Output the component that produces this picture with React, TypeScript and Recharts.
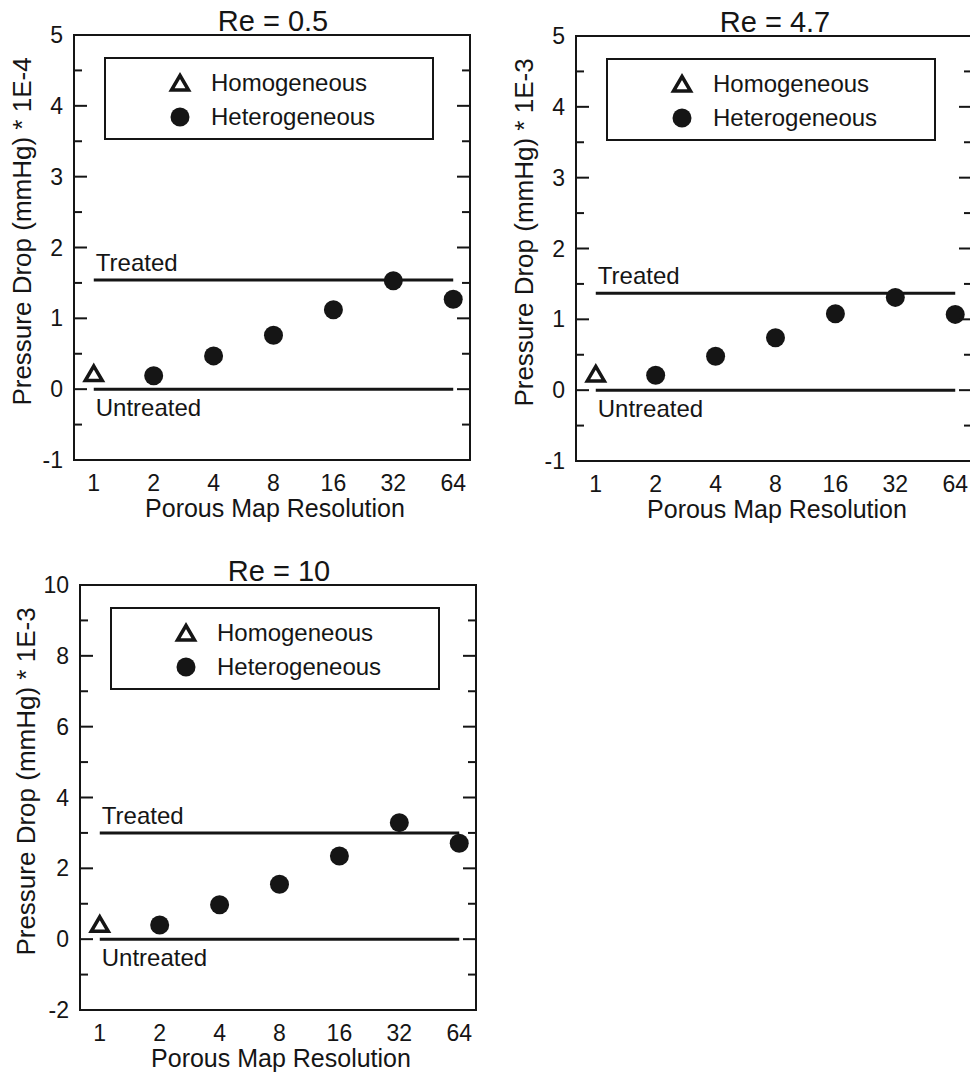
import React from 'react';
import {
  ScatterChart,
  Scatter,
  XAxis,
  YAxis,
  ReferenceLine,
  ReferenceArea,
  Legend,
} from 'recharts';

// porous map resolutions on the x axis (plotted at their index)
const resolutions = ['1', '2', '4', '8', '16', '32', '64'];
const resolutionIndex = [0, 1, 2, 3, 4, 5, 6];

// Re = 0.5 (mmHg * 1E-4)
const re05Homogeneous = [0.22];
const re05Heterogeneous = [0.19, 0.47, 0.76, 1.12, 1.53, 1.27];
const re05Treated = 1.54;
const re05Untreated = 0;
const re05Ticks = [-1, -0.5, 0, 0.5, 1, 1.5, 2, 2.5, 3, 3.5, 4, 4.5, 5];

// Re = 4.7 (mmHg * 1E-3)
const re47Homogeneous = [0.23];
const re47Heterogeneous = [0.21, 0.48, 0.74, 1.08, 1.31, 1.07];
const re47Treated = 1.37;
const re47Untreated = 0;
const re47Ticks = [-1, -0.5, 0, 0.5, 1, 1.5, 2, 2.5, 3, 3.5, 4, 4.5, 5];

// Re = 10 (mmHg * 1E-3)
const re10Homogeneous = [0.42];
const re10Heterogeneous = [0.4, 0.97, 1.55, 2.35, 3.29, 2.71];
const re10Treated = 3.0;
const re10Untreated = 0;
const re10Ticks = [-2, -1, 0, 1, 2, 3, 4, 5, 6, 7, 8, 9, 10];

const INK = '#151515';
const FONT = '"Liberation Sans", Arial, Helvetica, sans-serif';
const X_DOMAIN: [number, number] = [-0.33, 6.28];

const isMajor = (v: number, step: number) => Math.abs(v / step - Math.round(v / step)) < 1e-6;

// tick marks (all drawn inward, from the frame)
const BottomMark = (props: any) => {
  const x = Number(props.x);
  const y = Number(props.y);
  return <path d={`M${x},${y}V${y - 9}`} stroke={INK} strokeWidth={2} fill="none" />;
};

const TopMark = (props: any) => {
  const x = Number(props.x);
  const y = Number(props.y);
  return <path d={`M${x},${y}V${y + 9}`} stroke={INK} strokeWidth={2} fill="none" />;
};

const makeLeftMark = (step: number) => (props: any) => {
  const x = Number(props.x);
  const y = Number(props.y);
  const len = isMajor(props.payload.value, step) ? 13 : 8;
  return <path d={`M${x},${y}H${x + len}`} stroke={INK} strokeWidth={2} fill="none" />;
};

const makeRightMark = (step: number) => (props: any) => {
  const x = Number(props.x);
  const y = Number(props.y);
  const len = isMajor(props.payload.value, step) ? 13 : 8;
  return <path d={`M${x},${y}H${x - len}`} stroke={INK} strokeWidth={2} fill="none" />;
};

// tick labels
const BottomLabel = (props: any) => {
  const x = Number(props.x);
  const y = Number(props.y);
  return (
    <text x={x} y={y + 30} textAnchor="middle" fontSize={23} fill={INK} fontFamily={FONT}>
      {resolutions[props.payload.value]}
    </text>
  );
};

const makeLeftLabel = (step: number) => (props: any) => {
  const x = Number(props.x);
  const y = Number(props.y);
  if (!isMajor(props.payload.value, step)) return <g />;
  return (
    <text x={x - 10} y={y + 8} textAnchor="end" fontSize={23} fill={INK} fontFamily={FONT}>
      {props.payload.value}
    </text>
  );
};

const Triangle = (props: any) => {
  const { cx, cy } = props;
  if (cx == null || cy == null) return null;
  return (
    <path
      d={`M${cx},${cy - 7.5} L${cx + 8.5},${cy + 7} L${cx - 8.5},${cy + 7} Z`}
      fill="#fff"
      stroke={INK}
      strokeWidth={3.5}
      strokeLinejoin="miter"
    />
  );
};

const Dot = (props: any) => {
  const { cx, cy } = props;
  if (cx == null || cy == null) return null;
  return <circle cx={cx} cy={cy} r={9.5} fill={INK} />;
};

const legendOrder = ['Homogeneous', 'Heterogeneous'];

const renderLegend = (props: any) => {
  const payload = [...(props.payload || [])].sort(
    (a: any, b: any) => legendOrder.indexOf(a.value) - legendOrder.indexOf(b.value),
  );
  return (
    <svg width={330} height={83} style={{ display: 'block' }}>
      <rect x={1} y={1} width={328} height={81} fill="#fff" stroke={INK} strokeWidth={2} />
      {payload.map((entry: any, i: number) => {
        const cy = 26 + i * 34;
        return (
          <g key={entry.value}>
            {entry.value === 'Homogeneous' ? <Triangle cx={76} cy={cy} /> : <Dot cx={76} cy={cy} />}
            <text x={107} y={cy + 8} fontSize={24} fill={INK} fontFamily={FONT}>
              {entry.value}
            </text>
          </g>
        );
      })}
    </svg>
  );
};

const lineLabel = (text: string, dx: number, dy: number) => (props: any) => {
  const vb = props.viewBox || { x: 0, y: 0 };
  return (
    <text x={vb.x + dx} y={vb.y + dy} fontSize={24} fill={INK} fontFamily={FONT}>
      {text}
    </text>
  );
};

interface PanelProps {
  left: number;
  top: number;
  title: string;
  yLabel: string;
  yDomain: [number, number];
  yTicks: number[];
  majorStep: number;
  homogeneous: number[];
  heterogeneous: number[];
  treated: number;
  untreated: number;
  yLabelGap: number;
}

const Panel: React.FC<PanelProps> = ({
  left, top, title, yLabel, yDomain, yTicks, majorStep,
  homogeneous, heterogeneous, treated, untreated, yLabelGap,
}) => {
  const homData = homogeneous.map((v, i) => ({ x: resolutionIndex[i], y: v }));
  const hetData = heterogeneous.map((v, i) => ({ x: resolutionIndex[i + 1], y: v }));

  const titleLabel = (props: any) => {
    const vb = props.viewBox || { x: 0, y: 0, width: 0, height: 0 };
    return (
      <text x={vb.x + vb.width / 2 + 1} y={vb.y + (vb.height || 0) - 3} textAnchor="middle" fontSize={29} fill={INK} fontFamily={FONT}>
        {title}
      </text>
    );
  };
  const xLabel = (props: any) => {
    const vb = props.viewBox || { x: 0, y: 0, width: 0 };
    return (
      <text x={vb.x + vb.width / 2 + 3} y={vb.y + 56} textAnchor="middle" fontSize={25} fill={INK} fontFamily={FONT}>
        Porous Map Resolution
      </text>
    );
  };
  const yTitle = (props: any) => {
    const vb = props.viewBox || { x: 0, y: 0, width: 0, height: 0 };
    const tx = vb.x + vb.width + 1 - yLabelGap;
    const ty = vb.y + vb.height / 2 - 16;
    return (
      <text transform={`translate(${tx},${ty}) rotate(-90)`} textAnchor="middle" fontSize={26} fill={INK} fontFamily={FONT}>
        {yLabel}
      </text>
    );
  };

  const common = { type: 'number' as const, tickSize: 0, tickMargin: 0, tickLine: false, axisLine: false, interval: 0 as const, allowDataOverflow: true };

  return (
    <div style={{ position: 'absolute', left, top }}>
      <ScatterChart width={480} height={525} margin={{ top: 33, right: 9, bottom: 0, left: 0 }}>
        {/* label axes first (outer), then the mark-only axes next to the frame */}
        <XAxis {...common} xAxisId="B2" dataKey="x" orientation="bottom" domain={X_DOMAIN} ticks={resolutionIndex} height={64} tick={BottomLabel} label={xLabel} />
        <XAxis {...common} xAxisId="B1" orientation="bottom" domain={X_DOMAIN} ticks={resolutionIndex} height={1} tick={BottomMark} />
        <XAxis {...common} xAxisId="T2" orientation="top" domain={X_DOMAIN} ticks={resolutionIndex} height={1} tick={false} label={titleLabel} />
        <XAxis {...common} xAxisId="T1" orientation="top" domain={X_DOMAIN} ticks={resolutionIndex} height={1} tick={TopMark} />
        <YAxis {...common} yAxisId="L2" dataKey="y" orientation="left" domain={yDomain} ticks={yTicks} width={73} tick={makeLeftLabel(majorStep)} label={yTitle} />
        <YAxis {...common} yAxisId="L1" orientation="left" domain={yDomain} ticks={yTicks} width={1} tick={makeLeftMark(majorStep)} />
        <YAxis {...common} yAxisId="R1" orientation="right" domain={yDomain} ticks={yTicks} width={1} tick={makeRightMark(majorStep)} />

        {/* plot frame */}
        <ReferenceArea
          xAxisId="B2"
          yAxisId="L2"
          x1={X_DOMAIN[0]}
          x2={X_DOMAIN[1]}
          y1={yDomain[0]}
          y2={yDomain[1]}
          fill="none"
          fillOpacity={0}
          stroke={INK}
          strokeWidth={2}
          ifOverflow="visible"
        />
        <ReferenceLine
          xAxisId="B2"
          yAxisId="L2"
          segment={[{ x: resolutionIndex[0], y: treated }, { x: resolutionIndex[6], y: treated }]}
          stroke={INK}
          strokeWidth={3}
          label={lineLabel('Treated', 2, -9)}
        />
        <ReferenceLine
          xAxisId="B2"
          yAxisId="L2"
          segment={[{ x: resolutionIndex[0], y: untreated }, { x: resolutionIndex[6], y: untreated }]}
          stroke={INK}
          strokeWidth={3}
          label={lineLabel('Untreated', 2, 27)}
        />
        <Scatter
          name="Homogeneous"
          data={homData}
          xAxisId="B2"
          yAxisId="L2"
          shape={Triangle}
          isAnimationActive={false}
        />
        <Scatter
          name="Heterogeneous"
          data={hetData}
          xAxisId="B2"
          yAxisId="L2"
          shape={Dot}
          isAnimationActive={false}
        />
        <Legend
          layout="horizontal"
          verticalAlign="middle"
          align="center"
          content={renderLegend}
          wrapperStyle={{ left: 104, top: 35 + 22, width: 330, height: 83 }}
        />
      </ScatterChart>
    </div>
  );
};

const App: React.FC = () => (
  <div
    style={{
      position: 'absolute',
      left: 0,
      top: 0,
      width: 970,
      height: 1074,
      overflow: 'hidden',
      background: '#fff',
      fontFamily: FONT,
    }}
  >
    <Panel
      left={0}
      top={0}
      title="Re = 0.5"
      yLabel="Pressure Drop (mmHg) * 1E-4"
      yDomain={[-1, 5]}
      yTicks={re05Ticks}
      majorStep={1}
      homogeneous={re05Homogeneous}
      heterogeneous={re05Heterogeneous}
      treated={re05Treated}
      untreated={re05Untreated}
      yLabelGap={43}
    />
    <Panel
      left={502}
      top={1}
      title="Re = 4.7"
      yLabel="Pressure Drop (mmHg) * 1E-3"
      yDomain={[-1, 5]}
      yTicks={re47Ticks}
      majorStep={1}
      homogeneous={re47Homogeneous}
      heterogeneous={re47Heterogeneous}
      treated={re47Treated}
      untreated={re47Untreated}
      yLabelGap={43}
    />
    <Panel
      left={6}
      top={550}
      title="Re = 10"
      yLabel="Pressure Drop (mmHg) * 1E-3"
      yDomain={[-2, 10]}
      yTicks={re10Ticks}
      majorStep={2}
      homogeneous={re10Homogeneous}
      heterogeneous={re10Heterogeneous}
      treated={re10Treated}
      untreated={re10Untreated}
      yLabelGap={45}
    />
  </div>
);

export default App;
